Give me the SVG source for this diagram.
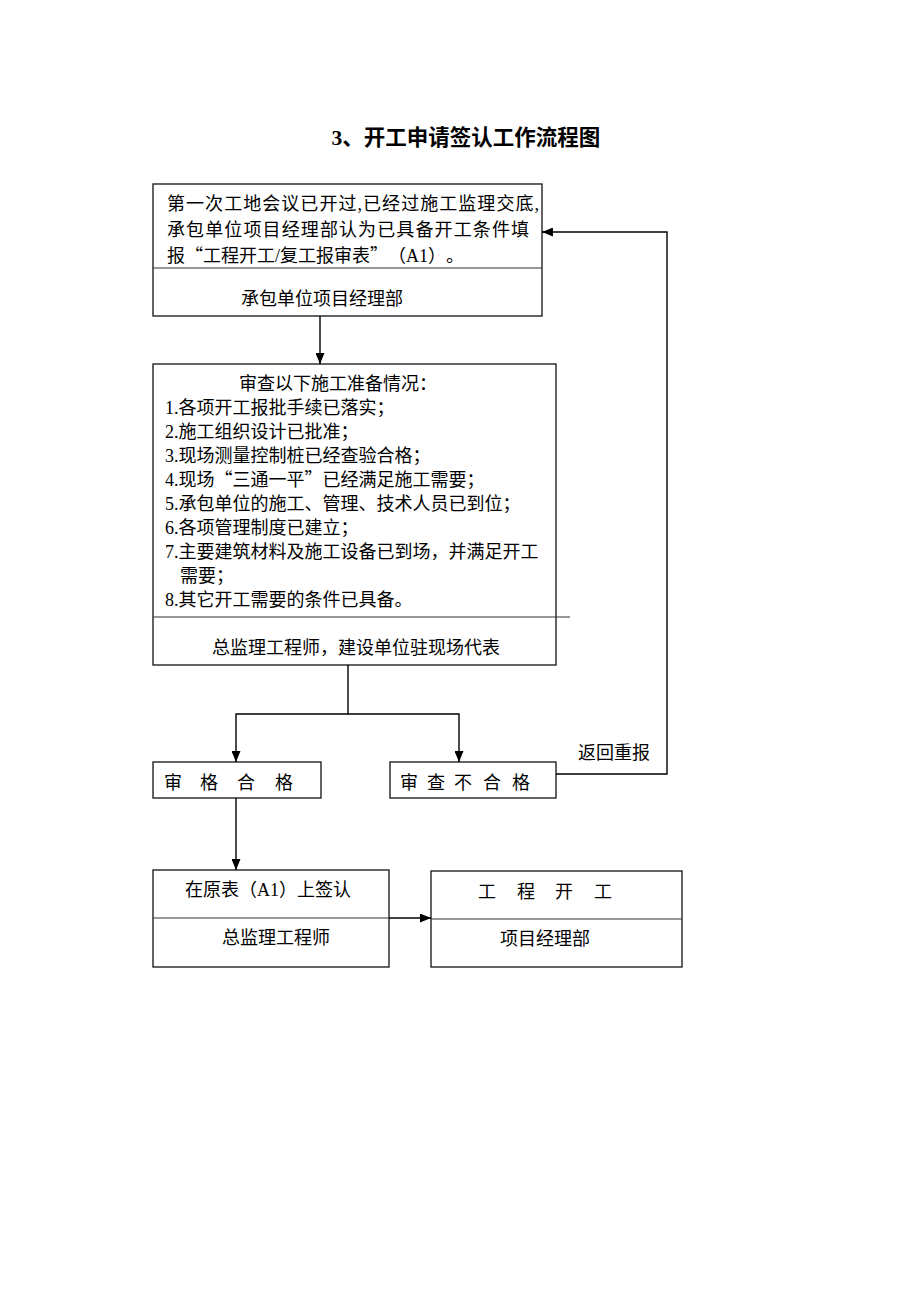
<svg xmlns="http://www.w3.org/2000/svg" width="920" height="1302" viewBox="0 0 920 1302">
<defs>
<style>
.t{font-family:"Noto Sans CJK SC","Liberation Serif",sans-serif;font-size:18px;fill:#000;text-spacing-trim:space-all}
.s{font-family:"Liberation Serif",serif}
.title{font-family:"Noto Sans CJK SC","Liberation Serif",sans-serif;font-size:21.5px;font-weight:bold;fill:#000;text-spacing-trim:space-all}
.box{fill:#fff;stroke:#222;stroke-width:1.4}
.div{fill:none;stroke:#333;stroke-width:1.2}
.ln{fill:none;stroke:#000;stroke-width:1.4}
</style>
<marker id="ah" markerUnits="userSpaceOnUse" markerWidth="11" markerHeight="9" refX="11" refY="4.5" orient="auto">
<path d="M0,0 L11,4.5 L0,9 z" fill="#000"/>
</marker>
</defs>
<rect width="920" height="1302" fill="#fff"/>
<text class="title" x="466" y="145" text-anchor="middle"><tspan class="s">3</tspan>、开工申请签认工作流程图</text>

<g id="node-apply">
<rect class="box" x="153" y="184" width="389" height="132"/>
<line class="div" x1="153" y1="268" x2="542" y2="268"/>
<text class="t" x="167" y="210" textLength="372" lengthAdjust="spacing">第一次工地会议已开过<tspan class="s">,</tspan>已经过施工监理交底<tspan class="s">,</tspan></text>
<text class="t" x="167" y="236" textLength="362" lengthAdjust="spacing">承包单位项目经理部认为已具备开工条件填</text>
<text class="t" x="167" y="262">报“工程开工<tspan class="s">/</tspan>复工报审表”（<tspan class="s">A1</tspan>）。</text>
<text class="t" x="322" y="305" text-anchor="middle">承包单位项目经理部</text>
</g>

<g id="node-review">
<rect class="box" x="153" y="364" width="403" height="301"/>
<line class="div" x1="153" y1="617" x2="570" y2="617"/>
<text class="t" x="239" y="390">审查以下施工准备情况：</text>
<text class="t" x="165" y="414"><tspan class="s">1.</tspan>各项开工报批手续已落实；</text>
<text class="t" x="165" y="438"><tspan class="s">2.</tspan>施工组织设计已批准；</text>
<text class="t" x="165" y="462"><tspan class="s">3.</tspan>现场测量控制桩已经查验合格；</text>
<text class="t" x="165" y="486"><tspan class="s">4.</tspan>现场“三通一平”已经满足施工需要；</text>
<text class="t" x="165" y="510"><tspan class="s">5.</tspan>承包单位的施工、管理、技术人员已到位；</text>
<text class="t" x="165" y="534"><tspan class="s">6.</tspan>各项管理制度已建立；</text>
<text class="t" x="165" y="558"><tspan class="s">7.</tspan>主要建筑材料及施工设备已到场，并满足开工</text>
<text class="t" x="180" y="582">需要；</text>
<text class="t" x="165" y="606"><tspan class="s">8.</tspan>其它开工需要的条件已具备。</text>
<text class="t" x="356" y="654" text-anchor="middle">总监理工程师，建设单位驻现场代表</text>
</g>

<g id="node-pass">
<rect class="box" x="153" y="762" width="168" height="36"/>
<text class="t" x="164 200 237 275" y="789">审格合格</text>
</g>

<g id="node-fail">
<rect class="box" x="390" y="762" width="166" height="36"/>
<text class="t" x="400 427 454 483 512" y="789">审查不合格</text>
</g>

<g id="node-sign">
<rect class="box" x="153" y="870" width="236" height="97"/>
<line class="div" x1="153" y1="918" x2="389" y2="918"/>
<text class="t" x="185" y="896">在原表（<tspan class="s">A1</tspan>）上签认</text>
<text class="t" x="276" y="944" text-anchor="middle">总监理工程师</text>
</g>

<g id="node-start">
<rect class="box" x="431" y="871" width="251" height="96"/>
<line class="div" x1="431" y1="919" x2="682" y2="919"/>
<text class="t" x="478 517 555 594" y="898">工程开工</text>
<text class="t" x="545" y="945" text-anchor="middle">项目经理部</text>
</g>

<g id="connectors">
<path class="ln" d="M320 316 V364" marker-end="url(#ah)"/>
<path class="ln" d="M348 665 V714 H236 V762" marker-end="url(#ah)"/>
<path class="ln" d="M348 714 H459 V762" marker-end="url(#ah)"/>
<path class="ln" d="M556 774 H667 V232 H542" marker-end="url(#ah)"/>
<path class="ln" d="M236 798 V870" marker-end="url(#ah)"/>
<path class="ln" d="M389 918 H431" marker-end="url(#ah)"/>
<text class="t" x="578" y="759">返回重报</text>
</g>
</svg>
